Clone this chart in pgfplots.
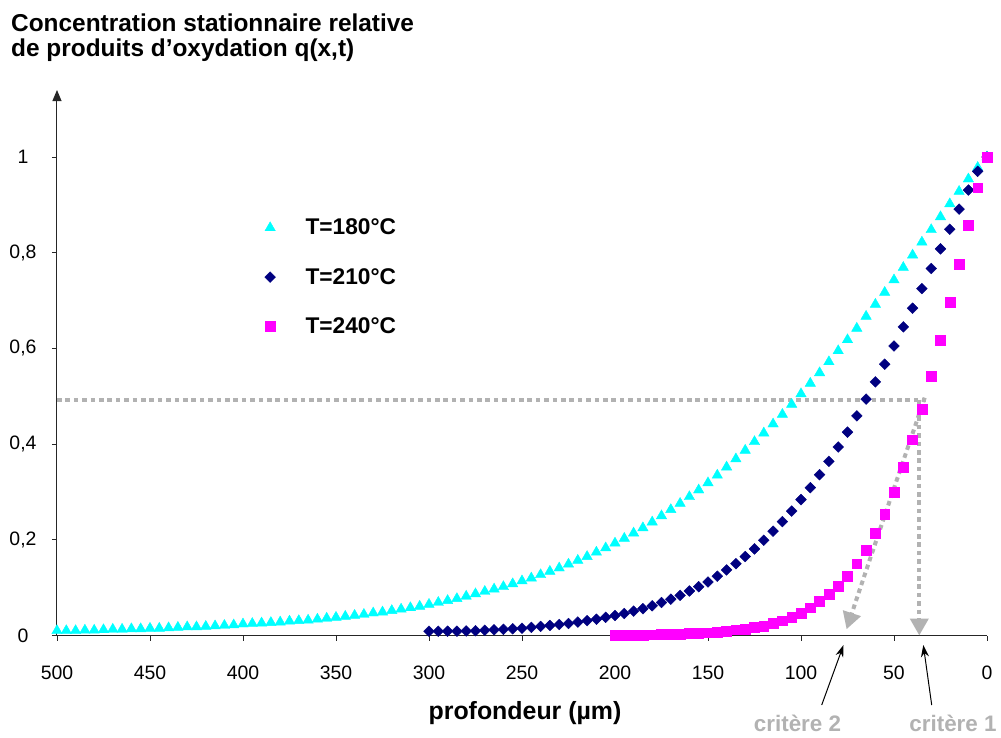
\documentclass[border=0pt]{standalone}
\usepackage{fontspec}
\setmainfont{Liberation Sans}
\usepackage{pgfplots}
\usepackage{pgfplotstable}
\pgfplotsset{compat=1.18}
\usetikzlibrary{arrows.meta}
\definecolor{cyanM}{RGB}{0,255,255}
\definecolor{navyM}{RGB}{0,0,128}
\definecolor{magM}{RGB}{255,0,255}
\definecolor{annot}{RGB}{178,178,178}
\pgfplotstableread{
x q
0 1.000
5 0.978
10 0.954
15 0.928
20 0.902
25 0.875
30 0.848
35 0.822
40 0.795
45 0.769
50 0.743
55 0.717
60 0.692
65 0.667
70 0.642
75 0.618
80 0.595
85 0.572
90 0.549
95 0.527
100 0.505
105 0.483
110 0.462
115 0.442
120 0.423
125 0.405
130 0.387
135 0.369
140 0.352
145 0.335
150 0.319
155 0.304
160 0.290
165 0.276
170 0.263
175 0.250
180 0.237
185 0.225
190 0.214
195 0.203
200 0.193
205 0.183
210 0.174
215 0.165
220 0.157
225 0.149
230 0.141
235 0.134
240 0.127
245 0.120
250 0.114
255 0.108
260 0.102
265 0.097
270 0.092
275 0.087
280 0.082
285 0.077
290 0.073
295 0.069
300 0.065
305 0.061
310 0.058
315 0.055
320 0.052
325 0.049
330 0.047
335 0.044
340 0.042
345 0.040
350 0.038
355 0.036
360 0.034
365 0.032
370 0.031
375 0.030
380 0.028
385 0.027
390 0.026
395 0.025
400 0.024
405 0.022
410 0.021
415 0.020
420 0.019
425 0.018
430 0.018
435 0.017
440 0.016
445 0.015
450 0.015
455 0.014
460 0.014
465 0.013
470 0.013
475 0.012
480 0.011
485 0.011
490 0.010
495 0.010
500 0.010
}\tcyan
\pgfplotstableread{
x q
0 1.000
5 0.970
10 0.931
15 0.891
20 0.849
25 0.808
30 0.767
35 0.725
40 0.684
45 0.645
50 0.605
55 0.567
60 0.530
65 0.494
70 0.459
75 0.425
80 0.394
85 0.364
90 0.336
95 0.309
100 0.284
105 0.260
110 0.238
115 0.218
120 0.199
125 0.181
130 0.165
135 0.150
140 0.137
145 0.124
150 0.112
155 0.102
160 0.093
165 0.084
170 0.076
175 0.069
180 0.062
185 0.056
190 0.051
195 0.046
200 0.042
205 0.038
210 0.034
215 0.031
220 0.028
225 0.025
230 0.023
235 0.021
240 0.019
245 0.017
250 0.015
255 0.014
260 0.013
265 0.012
270 0.011
275 0.010
280 0.0095
285 0.009
290 0.009
295 0.009
300 0.009
}\tnavy
\pgfplotstableread{
x q
0 1.000
5 0.936
10 0.857
15 0.776
20 0.696
25 0.617
30 0.542
35 0.473
40 0.409
45 0.351
50 0.300
55 0.254
60 0.214
65 0.179
70 0.150
75 0.124
80 0.103
85 0.086
90 0.071
95 0.058
100 0.047
105 0.038
110 0.031
115 0.025
120 0.020
125 0.017
130 0.014
135 0.012
140 0.009
145 0.0075
150 0.006
155 0.005
160 0.004
165 0.0035
170 0.003
175 0.002
180 0.0015
185 0.001
190 0.001
195 0.001
200 0.0005
}\tmag
\begin{document}
\begin{tikzpicture}
\useasboundingbox (0,0) rectangle (1001bp,-738bp);
\begin{axis}[
  at={(57bp,-635.5bp)}, anchor=south west,
  scale only axis, width=930bp, height=545.5bp,
  xmin=0, xmax=500, ymin=0, ymax=1.14,
  x dir=reverse,
  axis x line*=bottom, axis y line*=left,
  x axis line style={line width=1bp, black!85},
  y axis line style={line width=1bp, black!85, -{Triangle[length=11bp,width=9bp]}},
  xtick={0,50,...,500}, ytick={0,0.2,0.4,0.6,0.8,1},
  tick align=outside, major tick length=5bp,
  tick style={line width=0.8bp, black!85},
  xticklabel style={anchor=center, yshift=-32bp, font=\fontsize{19.5}{22}\selectfont},
  yticklabel style={anchor=center, xshift=-29bp, font=\fontsize{19.5}{22}\selectfont},
  /pgf/number format/use comma,
  /pgf/number format/fixed,
  /pgf/number format/assume math mode=true,
  clip=false,
  legend cell align=left,
  legend style={draw=none, fill=none, at={(axis description cs:0.22,0.771)}, anchor=north west,
    font=\bfseries\fontsize{22.8}{25}\selectfont, row sep=28bp,
    /tikz/every odd column/.append style={column sep=28bp}},
]
\addplot[only marks, mark=triangle*, mark size=6bp, color=cyanM] table[x=x,y=q]{\tcyan};
\addlegendentry{T=180°C}
\addplot[only marks, mark=square*, mark size=3.8bp, mark options={rotate=45}, color=navyM] table[x=x,y=q]{\tnavy};
\addlegendentry{T=210°C}
\addplot[only marks, mark=square*, mark size=4.9bp, color=magM] table[x=x,y=q]{\tmag};
\addlegendentry{T=240°C}
\draw[annot, line width=4bp, dash pattern=on 4.6bp off 3.8bp] (axis cs:500,0.493) -- (axis cs:33,0.493);
\draw[annot, line width=4bp, dash pattern=on 4.6bp off 3.8bp, -{Triangle[length=17bp,width=18bp]}] (axis cs:36.4,0.493) -- (axis cs:36.4,0);
\draw[annot, line width=4bp, dash pattern=on 4.6bp off 3.8bp, -{Triangle[length=17bp,width=18bp]}] (axis cs:33.5,0.497) .. controls (axis cs:48,0.33) and (axis cs:63,0.16) .. (axis cs:75.5,0.013);
\end{axis}
\node[anchor=base west, inner sep=0pt, font=\bfseries\fontsize{24.5}{24}\selectfont] at (11bp,-31.7bp) {Concentration stationnaire relative};
\node[anchor=base west, inner sep=0pt, font=\bfseries\fontsize{24.5}{24}\selectfont] at (11bp,-56bp) {de produits d’oxydation q(x,t)};
\node[anchor=base, inner sep=0pt, font=\bfseries\fontsize{25}{26}\selectfont] at (525bp,-719bp) {profondeur (µm)};
\draw[black, line width=1bp, -{Stealth[length=12bp,width=8bp]}] (821.7bp,-705bp) -- (843.5bp,-645bp);
\draw[black, line width=1bp, -{Stealth[length=12bp,width=8bp]}] (931.7bp,-705bp) -- (923.3bp,-645bp);
\node[annot, anchor=base, inner sep=0pt, font=\bfseries\fontsize{22.5}{24}\selectfont] at (797.5bp,-731bp) {critère 2};
\node[annot, anchor=base, inner sep=0pt, font=\bfseries\fontsize{22.5}{24}\selectfont] at (953bp,-731bp) {critère 1};
\end{tikzpicture}
\end{document}
